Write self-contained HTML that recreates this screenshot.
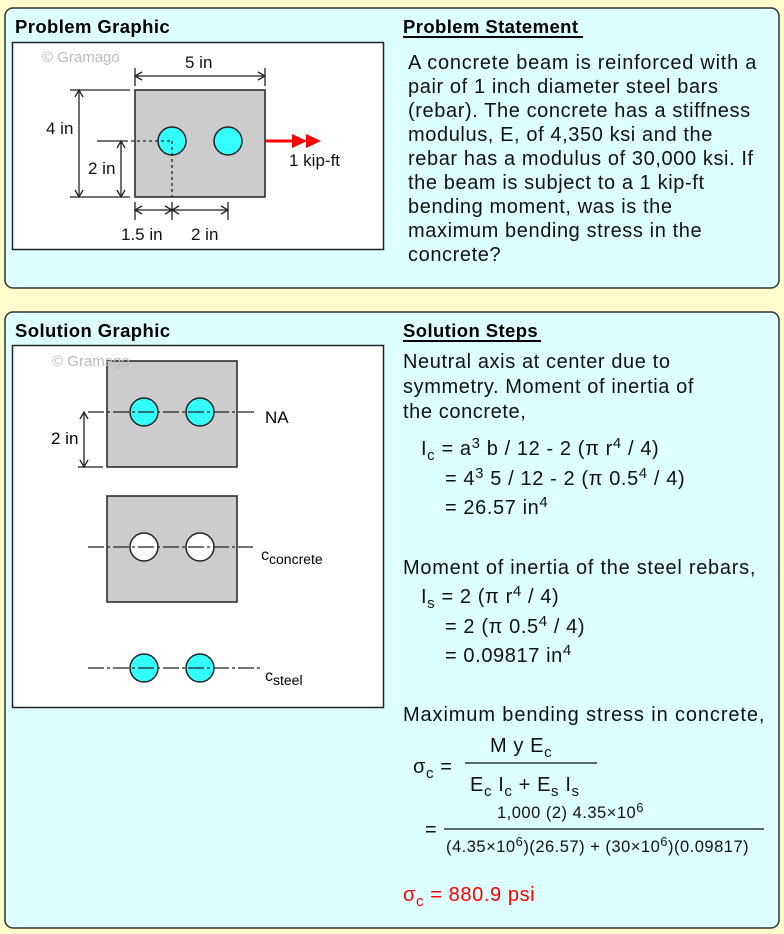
<!DOCTYPE html>
<html><head><meta charset="utf-8"><style>
html,body{margin:0;padding:0;background:#ffffcc;}
svg{display:block;font-family:"Liberation Sans",Arial,sans-serif;}
</style></head><body>
<svg width="784" height="934" viewBox="0 0 784 934" xmlns="http://www.w3.org/2000/svg">
<rect width="784" height="934" fill="#ffffcc"/>
<rect x="5" y="8" width="774" height="280" rx="8" fill="#ddffff" stroke="#333" stroke-width="1.5"/>
<rect x="5" y="312" width="774" height="616" rx="8" fill="#ddffff" stroke="#333" stroke-width="1.5"/>

<g font-size="18.5" font-weight="bold" letter-spacing="0.4">
<text x="15" y="33">Problem Graphic</text>
<text x="403" y="33">Problem Statement</text>
<text x="15" y="337">Solution Graphic</text>
<text x="403" y="337">Solution Steps</text>
</g>
<line x1="403" y1="37" x2="583" y2="37" stroke="#000" stroke-width="2"/>
<line x1="403" y1="341" x2="541" y2="341" stroke="#000" stroke-width="2"/>

<!-- problem graphic -->
<rect x="12.5" y="42.5" width="371" height="207" fill="#fff" stroke="#222" stroke-width="1.5"/>
<text x="42" y="62" font-size="15" fill="#bbb">© Gramago</text>
<rect x="135" y="90" width="130" height="107" fill="#cccccc" stroke="#222" stroke-width="1.5"/>
<circle cx="172" cy="141" r="14" fill="#33ffff" stroke="#222" stroke-width="1.5"/>
<circle cx="228" cy="141" r="14" fill="#33ffff" stroke="#222" stroke-width="1.5"/>
<g stroke="#222" stroke-width="1.3" fill="none">
<line x1="135" y1="68" x2="135" y2="86"/><line x1="265" y1="68" x2="265" y2="86"/>
<line x1="135" y1="76" x2="265" y2="76"/>
<polyline points="142,72 135,76 142,80"/><polyline points="258,72 265,76 258,80"/>
<line x1="70" y1="90" x2="130" y2="90"/><line x1="70" y1="197" x2="130" y2="197"/>
<line x1="79" y1="90" x2="79" y2="197"/>
<polyline points="75,97 79,90 83,97"/><polyline points="75,190 79,197 83,190"/>
<line x1="97" y1="141" x2="125" y2="141"/>
<line x1="121" y1="141" x2="121" y2="197"/>
<polyline points="117,148 121,141 125,148"/><polyline points="117,190 121,197 125,190"/>
<line x1="125" y1="141" x2="172" y2="141" stroke-dasharray="3,3"/>
<line x1="172" y1="141" x2="172" y2="197" stroke-dasharray="3,3"/>
<line x1="135" y1="202" x2="135" y2="220"/><line x1="172" y1="202" x2="172" y2="220"/><line x1="228" y1="202" x2="228" y2="220"/>
<line x1="135" y1="210" x2="228" y2="210"/>
<polyline points="142,206 135,210 142,214"/><polyline points="165,206 172,210 165,214"/>
<polyline points="179,206 172,210 179,214"/><polyline points="221,206 228,210 221,214"/>
</g>
<line x1="265" y1="141" x2="300" y2="141" stroke="#f00" stroke-width="3"/>
<polygon points="292,134 307,141 292,148" fill="#f00"/>
<polygon points="306,134 321,141 306,148" fill="#f00"/>
<g font-size="17" fill="#111">
<text x="185" y="68">5 in</text>
<text x="46" y="134">4 in</text>
<text x="88" y="174">2 in</text>
<text x="289" y="166">1 kip-ft</text>
<text x="121" y="240">1.5 in</text>
<text x="191" y="240">2 in</text>
</g>

<!-- problem statement -->
<g font-size="20" fill="#111" letter-spacing="0.6">
<text x="408" y="69" textLength="349">A concrete beam is reinforced with a</text>
<text x="408" y="93">pair of 1 inch diameter steel bars</text>
<text x="408" y="117">(rebar). The concrete has a stiffness</text>
<text x="408" y="141">modulus, E, of 4,350 ksi and the</text>
<text x="408" y="165">rebar has a modulus of 30,000 ksi. If</text>
<text x="408" y="189">the beam is subject to a 1 kip-ft</text>
<text x="408" y="213">bending moment, was is the</text>
<text x="408" y="237">maximum bending stress in the</text>
<text x="408" y="261">concrete?</text>
</g>

<!-- solution graphic -->
<rect x="12.5" y="345.5" width="371" height="362" fill="#fff" stroke="#222" stroke-width="1.5"/>
<rect x="107" y="361" width="130" height="106" fill="#cccccc" stroke="#222" stroke-width="1.5"/>
<text x="52" y="366" font-size="15" fill="#bbb">© Gramago</text>
<circle cx="144" cy="412" r="14" fill="#33ffff" stroke="#222" stroke-width="1.5"/>
<circle cx="200" cy="412" r="14" fill="#33ffff" stroke="#222" stroke-width="1.5"/>
<g stroke="#222" stroke-width="1.3" fill="none">
<line x1="88" y1="412" x2="255" y2="412" stroke-dasharray="16,3,3,3"/>
<line x1="78" y1="467" x2="103" y2="467"/>
<line x1="84" y1="412" x2="84" y2="467"/>
<polyline points="80,419 84,412 88,419"/><polyline points="80,460 84,467 88,460"/>
</g>
<text x="265" y="423" font-size="17">NA</text>
<text x="51" y="444" font-size="17">2 in</text>

<rect x="107" y="496" width="130" height="106" fill="#cccccc" stroke="#222" stroke-width="1.5"/>
<circle cx="144" cy="547" r="14" fill="#fff" stroke="#222" stroke-width="1.5"/>
<circle cx="200" cy="547" r="14" fill="#fff" stroke="#222" stroke-width="1.5"/>
<line x1="88" y1="547" x2="253" y2="547" stroke="#222" stroke-width="1.3" stroke-dasharray="16,3,3,3"/>
<text x="261" y="560" font-size="16">c<tspan font-size="14" dy="4">concrete</tspan></text>

<circle cx="144" cy="668" r="14" fill="#33ffff" stroke="#222" stroke-width="1.5"/>
<circle cx="200" cy="668" r="14" fill="#33ffff" stroke="#222" stroke-width="1.5"/>
<line x1="88" y1="668" x2="260" y2="668" stroke="#222" stroke-width="1.3" stroke-dasharray="16,3,3,3"/>
<text x="265" y="681" font-size="16">c<tspan font-size="14" dy="4">steel</tspan></text>

<!-- solution steps -->
<g font-size="20" fill="#111" letter-spacing="0.6">
<text x="403" y="368">Neutral axis at center due to</text>
<text x="403" y="393">symmetry. Moment of inertia of</text>
<text x="403" y="418">the concrete,</text>
<text x="421" y="455">I<tspan font-size="15" dy="5">c</tspan><tspan dy="-5"> = a</tspan><tspan font-size="15" dy="-7">3</tspan><tspan dy="7"> b / 12 - 2 (π r</tspan><tspan font-size="15" dy="-7">4</tspan><tspan dy="7"> / 4)</tspan></text>
<text x="445" y="485">= 4<tspan font-size="15" dy="-7">3</tspan><tspan dy="7"> 5 / 12 - 2 (π 0.5</tspan><tspan font-size="15" dy="-7">4</tspan><tspan dy="7"> / 4)</tspan></text>
<text x="445" y="514">= 26.57 in<tspan font-size="15" dy="-7">4</tspan></text>
<text x="403" y="574" textLength="353">Moment of inertia of the steel rebars,</text>
<text x="421" y="603">I<tspan font-size="15" dy="5">s</tspan><tspan dy="-5"> = 2 (π r</tspan><tspan font-size="15" dy="-7">4</tspan><tspan dy="7"> / 4)</tspan></text>
<text x="445" y="633">= 2 (π 0.5<tspan font-size="15" dy="-7">4</tspan><tspan dy="7"> / 4)</tspan></text>
<text x="445" y="662">= 0.09817 in<tspan font-size="15" dy="-7">4</tspan></text>
<text x="403" y="721" textLength="362">Maximum bending stress in concrete,</text>
<text x="490" y="752">M y E<tspan font-size="15" dy="5">c</tspan></text>
<text x="413" y="773">σ<tspan font-size="15" dy="5">c</tspan><tspan dy="-5"> =</tspan></text>
<text x="470" y="791">E<tspan font-size="15" dy="5">c</tspan><tspan dy="-5"> I</tspan><tspan font-size="15" dy="5">c</tspan><tspan dy="-5"> + E</tspan><tspan font-size="15" dy="5">s</tspan><tspan dy="-5"> I</tspan><tspan font-size="15" dy="5">s</tspan></text>
<text x="425" y="836">=</text>
<text x="403" y="901" fill="#f00">σ<tspan font-size="15" dy="5">c</tspan><tspan dy="-5"> = 880.9 psi</tspan></text>
</g>
<line x1="465" y1="763" x2="597" y2="763" stroke="#111" stroke-width="1.3"/>
<g font-size="16.5" fill="#111" letter-spacing="0.5">
<text x="497" y="818">1,000 (2) 4.35×10<tspan font-size="13" dy="-6">6</tspan></text>
<text x="446" y="852">(4.35×10<tspan font-size="13" dy="-6">6</tspan><tspan dy="6">)(26.57) + (30×10</tspan><tspan font-size="13" dy="-6">6</tspan><tspan dy="6">)(0.09817)</tspan></text>
</g>
<line x1="444" y1="829" x2="764" y2="829" stroke="#111" stroke-width="1.3"/>
</svg>
</body></html>
